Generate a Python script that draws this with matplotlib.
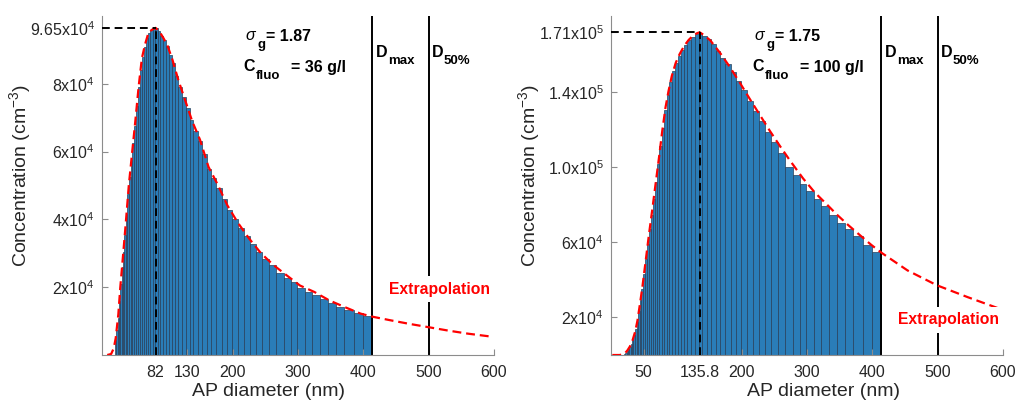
import numpy as np
import matplotlib
matplotlib.use('Agg')
import matplotlib.pyplot as plt

plt.rcParams['font.family'] = ['Liberation Sans', 'DejaVu Sans']
plt.rcParams['mathtext.fontset'] = 'custom'
plt.rcParams['mathtext.rm'] = 'Liberation Sans'
plt.rcParams['mathtext.it'] = 'Liberation Sans:italic'
plt.rcParams['mathtext.bf'] = 'Liberation Sans:bold'

# histogram bins (nm), shared by both panels
bin_edges = [20, 22, 24, 26, 28, 30, 32, 34, 36.5, 39, 41.5, 44, 46.5, 49,
             52, 55, 58, 61, 64, 67, 70.5, 74, 77.5, 81, 85, 89, 93, 97.5,
             102, 107, 112, 117, 122.5, 128, 134, 140, 146.5, 153, 160, 167.5,
             175, 183, 191, 199.5, 208, 217, 226, 235.5, 245, 255.5, 266.5,
             278.5, 289, 299, 310.5, 322, 334, 346.5, 358.5, 371, 385, 399, 414]

# bar heights, in 1e3 cm^-3
left_counts = [4.5, 7.5, 11, 16, 21, 26, 30.5, 35.5, 41.5, 47.5, 52.5, 57.5,
               62.5, 67.5, 73.5, 79, 84, 88, 91, 93.4, 94.9, 95.8, 96.3, 96.5,
               95.5, 94.2, 92.8, 91.2, 88.6, 86, 82.3, 79.2, 76, 73, 69.3, 66.2,
               63.2, 59.3, 55, 52.3, 49.2, 46, 42.7, 40.1, 37.5, 35.1, 32.8,
               30.4, 28.4, 26.6, 24.2, 22.7, 21.4, 19.9, 18.7, 17.7, 16.6, 15.4,
               14.2, 13.4, 12.3, 11.5]
right_counts = [0.6, 1.2, 2.1, 3.2, 4.5, 6.0, 8.0, 10.5, 13.8, 17.8, 23.5,
                29.5, 35.3, 43, 51.2, 59.3, 67.3, 74.8, 83, 92, 101.5, 111.3,
                121, 130.4, 138.3, 145.6, 151, 155.6, 159, 162.3, 165, 167.6,
                169.5, 171.1, 171.7, 170, 168, 165.5, 161.8, 158.3, 154.7, 150.7,
                145.7, 141.2, 135, 130, 124.5, 119, 113.5, 107.5, 100.2, 96.1,
                91.3, 87.2, 83.3, 79.2, 74.4, 70.5, 67.3, 63.2, 58.6, 54.7]

# fitted curves (nm, 1e3 cm^-3)
left_fit_d = [8, 14, 18, 21, 25, 28, 32, 36, 41, 46, 51, 56, 61, 66, 71, 76,
              82, 88, 94, 100, 108, 117, 127, 138, 150, 163, 177, 192, 208,
              225, 243, 262, 282, 303, 325, 348, 372, 396, 414, 440, 470, 500,
              530, 560, 597]
left_fit_c = [0, 0.3, 2, 5, 12, 20, 28.9, 38, 50, 59.5, 69, 79, 87.5, 91.7,
              95, 95.9, 96.5, 95.4, 93.5, 91.4, 87, 81, 75.3, 69, 63.5, 55.5,
              50.3, 44.1, 39, 34.4, 30.1, 26.6, 23.6, 20.5, 18.6, 16.1, 14.1,
              12.2, 11.3, 10.3, 9.2, 8.2, 7.2, 6.3, 5.4]
right_fit_d = [2, 13, 18, 22, 25, 29, 33, 37, 40.5, 44, 48, 53, 58, 63, 68,
               73.5, 78.5, 83.5, 88, 93, 99, 105, 112, 119, 126, 132, 135.8,
               142, 152, 167, 182, 197.5, 213, 228, 243, 258.5, 274, 294, 312,
               330, 345, 363, 381, 398.5, 415, 454, 499, 546, 595]
right_fit_c = [0, 0, 0.3, 1.2, 2.4, 4.6, 7.9, 12.5, 18.4, 26.5, 36.2, 50, 64,
               77, 90.5, 105.3, 119.5, 132, 140.5, 148.5, 155.5, 160.2, 164.6,
               167.8, 170.2, 171.4, 171.8, 170.4, 167.5, 160.8, 153.3, 144.8,
               136, 127.7, 119.4, 111.3, 103.5, 94, 86.5, 80.3, 75, 69.2, 63.8,
               58.6, 54.2, 45, 37.1, 30.8, 24.6]

d_max = 414
d_50 = 500

panels = [
    dict(counts=left_counts, fit_d=left_fit_d, fit_c=left_fit_c,
         peak_d=82, peak_c=9.65e4, sigma='1.87', cfluo='36 g/l',
         yticks=[2e4, 4e4, 6e4, 8e4, 9.65e4],
         ylabels=['2x10$^4$', '4x10$^4$', '6x10$^4$', '8x10$^4$', '9.65x10$^4$'],
         xticks=[82, 130, 200, 300, 400, 500, 600],
         xlabels=['82', '130', '200', '300', '400', '500', '600'],
         ymax=1.0e5, extra_y=1.94e4, xlab_x=0.426),
    dict(counts=right_counts, fit_d=right_fit_d, fit_c=right_fit_c,
         peak_d=135.8, peak_c=1.718e5, sigma='1.75', cfluo='100 g/l',
         yticks=[2e4, 6e4, 1.0e5, 1.4e5, 1.718e5],
         ylabels=['2x10$^4$', '6x10$^4$', '1.0x10$^5$', '1.4x10$^5$', '1.71x10$^5$'],
         xticks=[50, 135.8, 200, 300, 400, 500, 600],
         xlabels=['50', '135.8', '200', '300', '400', '500', '600'],
         ymax=1.805e5, extra_y=1.89e4, xlab_x=0.541),
]


def sub_label(ax, x, y, main, sub, rest='', gap=0.5, main_style='normal'):
    # MATLAB-like text with a big, low subscript
    t1 = ax.text(x, y, main, fontsize=11.5, fontweight='bold',
                 fontstyle=main_style, va='baseline', zorder=4)
    t2 = ax.annotate(sub, xy=(1, 0), xycoords=t1, xytext=(0.3, -3.2),
                     textcoords='offset points', fontsize=9.5,
                     fontweight='bold', va='baseline', zorder=4)
    if rest:
        ax.annotate(rest, xy=(1, 0), xycoords=t2, xytext=(gap, 7.3),
                    textcoords='offset points', fontsize=11.5,
                    fontweight='bold', va='baseline', zorder=4)


fig = plt.figure(figsize=(10.16, 4.01), dpi=100)
axes = [fig.add_axes([0.1004, 0.1147, 0.3858, 0.8454]),
        fig.add_axes([0.6014, 0.1147, 0.3858, 0.8454])]

edges = np.array(bin_edges)
for ax, p in zip(axes, panels):
    counts = np.array(p['counts']) * 1e3
    ax.bar(edges[:-1], counts, width=np.diff(edges), align='edge',
           color='#2a7db8', edgecolor='#28405a', linewidth=0.5, zorder=1)
    ax.plot(p['fit_d'], np.array(p['fit_c']) * 1e3, color='#ff0000', lw=1.6,
            linestyle=(0, (4, 2.2)), zorder=3)

    # peak markers
    ax.plot([0, p['peak_d']], [p['peak_c'], p['peak_c']], color='k', lw=1.4,
            linestyle=(0, (4, 2.5)), zorder=3)
    ax.plot([p['peak_d'], p['peak_d']], [0, p['peak_c']], color='k', lw=1.4,
            linestyle=(0, (4, 2.5)), zorder=3)

    ax.axvline(d_max, color='k', lw=1.4, zorder=2)
    ax.axvline(d_50, color='k', lw=1.4, zorder=2)

    ymax = p['ymax']
    sub_label(ax, 219, 0.928 * ymax, r'$\sigma$', 'g', '= ' + p['sigma'],
              gap=0.0)
    sub_label(ax, 217, 0.837 * ymax, 'C', 'fluo', '  = ' + p['cfluo'],
              gap=1.5)
    sub_label(ax, d_max + 5, 0.88 * ymax, 'D', 'max')
    sub_label(ax, d_50 + 5, 0.88 * ymax, 'D', '50%')
    ax.text(516, p['extra_y'], 'Extrapolation', color='#ff0000', fontsize=11.3,
            fontweight='bold', ha='center', va='center', zorder=4,
            bbox=dict(facecolor='white', edgecolor='none', pad=4))

    ax.set_xlim(0, 600)
    ax.set_ylim(0, ymax)
    ax.set_xticks(p['xticks'])
    ax.set_xticklabels(p['xlabels'])
    ax.set_yticks(p['yticks'])
    ax.set_yticklabels(p['ylabels'])
    ax.set_xlabel('AP diameter (nm)', fontsize=14, color='#262626', va='center')
    ax.set_ylabel('Concentration (cm$^{-3}$)', fontsize=14, color='#262626',
                  va='center')
    ax.xaxis.set_label_coords(p['xlab_x'], -0.109)
    ax.yaxis.set_label_coords(-0.208, 0.528)

    for side in ['top', 'right']:
        ax.spines[side].set_visible(False)
    for side in ['left', 'bottom']:
        ax.spines[side].set_color('#8c8c8c')
        ax.spines[side].set_linewidth(0.8)
    ax.tick_params(direction='in', length=4, width=0.8, color='#8c8c8c',
                   labelsize=11.5, labelcolor='#262626')
    ax.tick_params(axis='x', pad=7)
    ax.tick_params(axis='y', pad=5)

fig.savefig('out.png', dpi=100)
